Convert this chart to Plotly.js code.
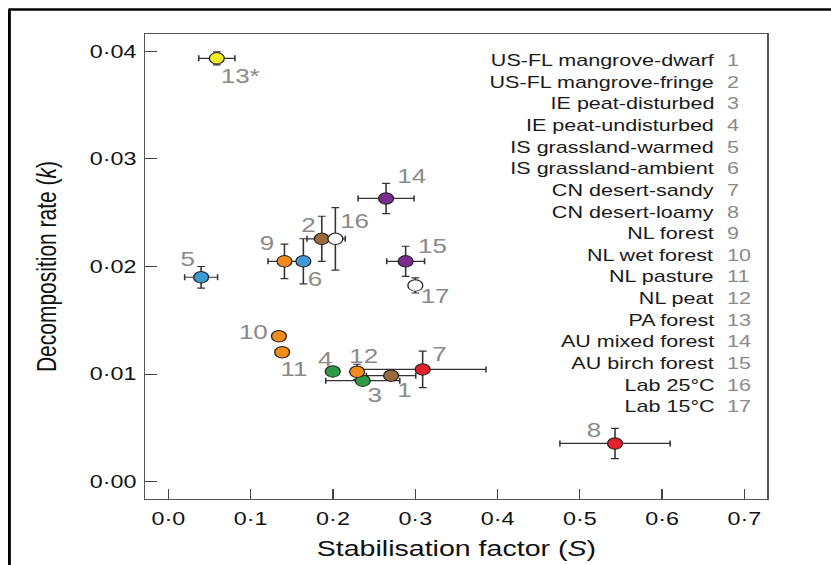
<!DOCTYPE html>
<html>
<head>
<meta charset="utf-8">
<script src="https://cdn.plot.ly/plotly-3.0.1.min.js"></script>
<style>
  html, body { margin: 0; padding: 0; background: #ffffff; }
  #wrap { width: 831px; height: 565px; overflow: hidden; position: relative; }
  #chart { width: 640px; height: 565px; transform: scaleX(1.2984); transform-origin: 0 0; }
</style>
</head>
<body>
<div id="wrap"><div id="chart"></div></div>
<script>
// ---- data ----
const siteNames = ['US-FL mangrove-dwarf', 'US-FL mangrove-fringe', 'IE peat-disturbed', 'IE peat-undisturbed',
  'IS grassland-warmed', 'IS grassland-ambient', 'CN desert-sandy', 'CN desert-loamy', 'NL forest',
  'NL wet forest', 'NL pasture', 'NL peat', 'PA forest', 'AU mixed forest', 'AU birch forest',
  'Lab 25°C', 'Lab 15°C'];
const siteNumbers = ['1','2','3','4','5','6','7','8','9','10','11','12','13','14','15','16','17'];
const pointLabels = ['1','2','3','4','5','6','7','8','9','10','11','12','13*','14','15','16','17'];
const stabilisationS = [0.2706, 0.1864, 0.2362, 0.1997, 0.0397, 0.1640, 0.3090, 0.5428, 0.1410,
  0.1343, 0.1382, 0.2293, 0.0588, 0.2645, 0.2883, 0.2029, 0.3001];
const decompositionK = [0.00986, 0.02257, 0.00939, 0.01025, 0.01900, 0.02048, 0.01044, 0.00356, 0.02048,
  0.01352, 0.01203, 0.01022, 0.03934, 0.02632, 0.02048, 0.02257, 0.01824];
const errS = [0.030, 0.018, 0.045, 0.004, 0.020, 0.007, 0.077, 0.067, 0.020,
  0.003, 0.005, 0.004, 0.022, 0.034, 0.023, 0.012, 0.005];
const errK = [0.0004, 0.0021, 0.0004, 0.0003, 0.0010, 0.0021, 0.0017, 0.0014, 0.0016,
  0.0003, 0.0004, 0.0007, 0.0006, 0.0014, 0.0014, 0.0029, 0.0007];
const siteGroup = ['US-FL','US-FL','IE','IE','IS','IS','CN','CN','NL','NL','NL','NL','PA','AU','AU','Lab','Lab'];
const xTickVals = [0, 0.1, 0.2, 0.3, 0.4, 0.5, 0.6, 0.7];
const xTickText = ['0·0','0·1','0·2','0·3','0·4','0·5','0·6','0·7'];
const yTickVals = [0, 0.01, 0.02, 0.03, 0.04];
const yTickText = ['0·00','0·01','0·02','0·03','0·04'];

// ---- styles / layout helpers ----
const groupColors = {'US-FL':'#9c6b3c','IE':'#2f9a45','IS':'#3d9ad6','CN':'#e3202b','NL':'#f28a1c',
  'PA':'#f2ee24','AU':'#7a2d8e','Lab':'#ffffff'};
// label offsets in reference pixels (dx right, dy down)
const labelDx = [14,-14,12,-8,-13,11,17,-21,-17,-26,12,7,24,25,27,19,19];
const labelDy = [14,-14,14,-12,-18,18,-15,-13,-18,-4,17,-16,18,-22,-15,-18,11];

const SX = 1.2984;             // horizontal stretch of the reference
const W = 640, H = 565;
const L = 145 / SX, R = W - 767 / SX, T = 34, B = H - 499;
const pw = W - L - R, ph = H - T - B;
const px2paperX = p => (p / SX - L) / pw;
const px2paperY = p => (H - B - p) / ph;
const FONT = 'Liberation Sans, Arial, sans-serif';

const trace = {
  type: 'scatter', mode: 'markers',
  x: stabilisationS, y: decompositionK,
  marker: { size: 11.5, color: siteGroup.map(g => groupColors[g]), line: { color: '#222', width: 1 } },
  error_x: { type: 'data', array: errS, visible: true, color: '#333', thickness: 1.2, width: 3 },
  error_y: { type: 'data', array: errK, visible: true, color: '#333', thickness: 1.2, width: 3 },
  hoverinfo: 'skip', showlegend: false
};

const annotations = [];
pointLabels.forEach((t, i) => {
  annotations.push({ x: stabilisationS[i], y: decompositionK[i], xref: 'x', yref: 'y', text: t,
    showarrow: false, xshift: labelDx[i] / SX, yshift: -labelDy[i],
    font: { family: FONT, size: 20, color: '#8a8a8a' } });
});
siteNames.forEach((n, i) => {
  const yc = 60.7 + 21.62 * i;
  annotations.push({ x: px2paperX(717), y: px2paperY(yc), xref: 'paper', yref: 'paper', text: n,
    xanchor: 'right', yanchor: 'middle', showarrow: false,
    font: { family: FONT, size: 16.6, color: '#1a1a1a' } });
  annotations.push({ x: px2paperX(724), y: px2paperY(yc), xref: 'paper', yref: 'paper', text: siteNumbers[i],
    xanchor: 'left', yanchor: 'middle', showarrow: false,
    font: { family: FONT, size: 16.6, color: '#8a8a8a' } });
});

const shapes = [
  { type: 'line', xref: 'paper', yref: 'paper', x0: px2paperX(9), x1: px2paperX(9), y0: px2paperY(9.5), y1: px2paperY(600),
    line: { color: '#000', width: 2.2 } },
  { type: 'line', xref: 'paper', yref: 'paper', x0: px2paperX(8), x1: px2paperX(900), y0: px2paperY(9.5), y1: px2paperY(9.5),
    line: { color: '#000', width: 2.4 } }
];

const axisFont = { family: FONT, size: 18, color: '#111' };
const layout = {
  width: W, height: H,
  margin: { l: L, r: R, t: T, b: B, pad: 0 },
  paper_bgcolor: '#fff', plot_bgcolor: '#fff',
  showlegend: false,
  xaxis: {
    range: [-0.028, 0.728], tickvals: xTickVals, ticktext: xTickText,
    ticks: 'inside', ticklen: 10, tickwidth: 1, tickcolor: '#444',
    showline: true, linecolor: '#555', linewidth: 1.3, mirror: true,
    showgrid: false, zeroline: false, tickfont: axisFont, ticklabelstandoff: 3,
    title: { text: 'Stabilisation factor (<i>S</i>)', font: { family: FONT, size: 22, color: '#111' }, standoff: 12 }
  },
  yaxis: {
    range: [-0.0016, 0.0416], tickvals: yTickVals, ticktext: yTickText,
    ticks: 'inside', ticklen: 12 / SX, tickwidth: 1.2, tickcolor: '#444',
    showline: true, linecolor: '#555', linewidth: 1.3, mirror: true,
    showgrid: false, zeroline: false, tickfont: axisFont, ticklabelstandoff: 2,
    title: { text: 'Decomposition rate (<i>k</i>)', font: { family: FONT, size: 21, color: '#111' }, standoff: 19 }
  },
  annotations: annotations,
  shapes: shapes
};

Plotly.newPlot('chart', [trace], layout, { staticPlot: true, displayModeBar: false });
</script>
</body>
</html>
